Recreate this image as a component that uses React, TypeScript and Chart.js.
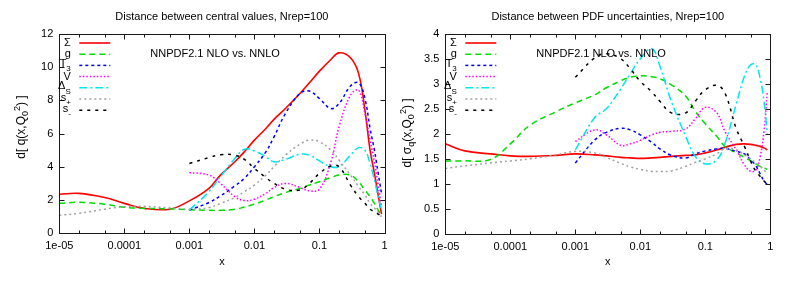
import React, { useEffect, useRef } from "react";
import { Chart, registerables } from "chart.js";

Chart.register(...registerables);

const W = 809;
const H = 297;
const FONT = '"Liberation Sans", Arial, Helvetica, sans-serif';
const _ = null;

// shared x grid (momentum fraction)
const X = [1e-5, 2e-5, 5e-5, 1e-4, 2e-4, 5e-4, 1e-3, 2e-3, 3e-3, 5e-3, 7e-3, 0.01, 0.015, 0.02, 0.03, 0.05, 0.07, 0.1, 0.15, 0.2, 0.3, 0.4, 0.5, 0.6, 0.7, 0.8, 0.9];

const X_TICKS = [1e-5, 1e-4, 1e-3, 1e-2, 1e-1, 1];
const X_TICK_LABELS = ["1e-05", "0.0001", "0.001", "0.01", "0.1", "1"];
const X_MINOR_FACTORS = [2, 5];

const Y_TICKS_CV = [0, 2, 4, 6, 8, 10, 12];
const Y_TICK_LABELS_CV = ["0", "2", "4", "6", "8", "10", "12"];
const Y_TICKS_UNC = [0, 0.5, 1, 1.5, 2, 2.5, 3, 3.5, 4];
const Y_TICK_LABELS_UNC = ["0", "0.5", "1", "1.5", "2", "2.5", "3", "3.5", "4"];

const SERIES_NAMES = ["Σ", "g", "T3", "V", "ΔS", "s+", "s-"];
const LEGEND_MAIN = ["Σ", "g", "T", "V", "Δ", "s", "s"];
const LEGEND_SUB = ["", "", "3", "", "S", "+", "-"];
const ANNOTATION = "NNPDF2.1 NLO vs. NNLO";

// Left panel: distance between central values
const cvSigma = [2.35, 2.4, 2.15, 1.8, 1.5, 1.45, 1.95, 2.7, 3.5, 4.3, 4.9, 5.6, 6.3, 6.85, 7.5, 8.4, 9.05, 9.75, 10.45, 10.85, 10.55, 9.6, 7.4, 5.0, 3.6, 2.3, 1.15];
const cvG = [1.8, 1.86, 1.75, 1.56, 1.5, 1.47, 1.42, 1.38, 1.38, 1.44, 1.58, 1.75, 2.0, 2.2, 2.45, 2.7, 2.9, 3.1, 3.35, 3.5, 3.5, 3.1, 2.6, 2.2, 1.8, 1.4, 1.05];
const cvT3 = [_, _, _, _, _, _, 1.4, 1.85, 2.25, 2.85, 3.3, 4.0, 4.9, 5.8, 7.2, 8.4, 8.55, 8.1, 7.5, 7.8, 8.85, 9.05, 8.1, 6.3, 5.0, 3.6, 2.4];
const cvV = [_, _, _, _, _, _, 3.65, 3.5, 3.0, 2.2, 1.97, 2.05, 2.4, 2.75, 3.0, 2.75, 2.55, 2.65, 4.3, 6.4, 8.3, 8.6, 7.2, 5.6, 4.3, 2.9, 1.6];
const cvDS = [_, _, _, _, _, _, 1.4, 2.5, 3.4, 4.5, 5.05, 4.95, 4.6, 4.3, 4.45, 4.75, 4.7, 4.35, 4.0, 4.0, 4.7, 5.15, 5.0, 4.2, 3.2, 2.2, 1.4];
const cvSp = [1.08, 1.2, 1.45, 1.6, 1.62, 1.52, 1.45, 1.55, 1.8, 2.15, 2.5, 2.9, 3.5, 4.0, 4.7, 5.35, 5.6, 5.5, 5.0, 4.4, 3.5, 2.8, 2.3, 1.8, 1.5, 1.25, 1.0];
const cvSm = [_, _, _, _, _, _, 4.2, 4.55, 4.72, 4.7, 4.45, 3.9, 3.35, 3.0, 2.65, 2.6, 3.0, 3.6, 4.05, 4.0, 2.9, 2.2, 1.8, 1.45, 1.3, 1.15, 1.05];

// Right panel: distance between PDF uncertainties
const unSigma = [1.8, 1.66, 1.6, 1.56, 1.55, 1.57, 1.6, 1.58, 1.56, 1.53, 1.52, 1.51, 1.52, 1.53, 1.55, 1.57, 1.58, 1.62, 1.68, 1.73, 1.79, 1.8, 1.79, 1.77, 1.75, 1.72, 1.68];
const unG = [1.46, 1.46, 1.49, 1.8, 2.17, 2.44, 2.62, 2.78, 2.92, 3.06, 3.13, 3.16, 3.14, 3.1, 2.98, 2.75, 2.45, 2.2, 1.95, 1.75, 1.62, 1.53, 1.46, 1.4, 1.35, 1.32, 1.29];
const unT3 = [_, _, _, _, _, _, 1.42, 1.88, 2.03, 2.11, 2.08, 1.98, 1.83, 1.7, 1.57, 1.52, 1.6, 1.66, 1.7, 1.71, 1.65, 1.6, 1.48, 1.36, 1.2, 1.06, 0.99];
const unV = [_, _, _, _, _, _, 1.85, 2.08, 1.98, 1.77, 1.8, 1.87, 1.98, 2.03, 2.05, 2.1, 2.3, 2.53, 2.42, 2.05, 1.68, 1.38, 1.25, 1.28, 1.55, 2.05, 2.85];
const unDS = [_, _, _, _, _, _, 1.68, 2.33, 2.5, 2.9, 3.2, 3.5, 3.7, 3.35, 2.65, 1.95, 1.55, 1.4, 1.48, 1.8, 2.6, 3.15, 3.38, 3.38, 3.1, 2.65, 2.0];
const unSp = [1.31, 1.36, 1.42, 1.46, 1.5, 1.58, 1.65, 1.62, 1.53, 1.41, 1.34, 1.29, 1.25, 1.25, 1.26, 1.35, 1.43, 1.5, 1.6, 1.7, 1.68, 1.58, 1.5, 1.42, 1.35, 1.28, 1.2];
const unSm = [_, _, _, _, _, _, 3.13, 3.52, 3.6, 3.5, 3.3, 3.05, 2.84, 2.65, 2.42, 2.42, 2.65, 2.88, 2.97, 2.82, 2.1, 1.75, 1.45, 1.25, 1.15, 1.06, 1.0];

const STYLES = [
  { color: "#ff0000", width: 1.6, dash: [] as number[] },
  { color: "#00dd00", width: 1.5, dash: [6, 4] },
  { color: "#0000ff", width: 1.5, dash: [3, 3] },
  { color: "#ff00ff", width: 1.5, dash: [1.5, 2] },
  { color: "#00e5ee", width: 1.5, dash: [8, 3, 2, 3] },
  { color: "#a0a0a0", width: 1.5, dash: [2, 3] },
  { color: "#000000", width: 1.5, dash: [3, 5] },
];

type Piece = { t: string; k?: "sub" | "sup" };

type Panel = {
  title: string;
  series: (number | null)[][];
  yMin: number;
  yMax: number;
  yTicks: number[];
  yTickLabels: string[];
  area: { left: number; right: number; top: number; bottom: number };
  yLabel: Piece[];
  yLabelPos: { x: number; y: number };
};

const PANELS: Panel[] = [
  {
    title: "Distance between central values, Nrep=100",
    series: [cvSigma, cvG, cvT3, cvV, cvDS, cvSp, cvSm],
    yMin: 0,
    yMax: 12,
    yTicks: Y_TICKS_CV,
    yTickLabels: Y_TICK_LABELS_CV,
    area: { left: 59.3, right: 384.5, top: 33.7, bottom: 233.3 },
    yLabel: [{ t: "d[ q(x,Q" }, { t: "0", k: "sub" }, { t: "2", k: "sup" }, { t: ") ]" }],
    yLabelPos: { x: 22, y: 127 },
  },
  {
    title: "Distance between PDF uncertainties, Nrep=100",
    series: [unSigma, unG, unT3, unV, unDS, unSp, unSm],
    yMin: 0,
    yMax: 4,
    yTicks: Y_TICKS_UNC,
    yTickLabels: Y_TICK_LABELS_UNC,
    area: { left: 445.3, right: 770.3, top: 33.7, bottom: 234 },
    yLabel: [{ t: "d[ σ" }, { t: "q", k: "sub" }, { t: "(x,Q" }, { t: "0", k: "sub" }, { t: "2", k: "sup" }, { t: ") ]" }],
    yLabelPos: { x: 408, y: 133 },
  },
];

function makeDecor(panel: Panel) {
  return {
    id: "decor",
    afterDraw(chart: any) {
      const ctx: CanvasRenderingContext2D = chart.ctx;
      const ca = chart.chartArea;
      const xs = chart.scales.x;
      const ys = chart.scales.y;
      ctx.save();
      ctx.setLineDash([]);
      ctx.strokeStyle = "#1a1a1a";
      ctx.lineWidth = 1;
      const L = Math.round(ca.left) + 0.5;
      const R = Math.round(ca.right) + 0.5;
      const T = Math.round(ca.top) + 0.5;
      const B = Math.round(ca.bottom) + 0.5;
      ctx.strokeRect(L, T, R - L, B - T);
      const seg = (x1: number, y1: number, x2: number, y2: number) => {
        ctx.beginPath();
        ctx.moveTo(x1, y1);
        ctx.lineTo(x2, y2);
        ctx.stroke();
      };
      X_TICKS.forEach((v) => {
        const px = Math.round(xs.getPixelForValue(v)) + 0.5;
        seg(px, B, px, B - 5);
        seg(px, T, px, T + 5);
      });
      X_TICKS.slice(0, -1).forEach((d) => {
        X_MINOR_FACTORS.forEach((f) => {
          const px = Math.round(xs.getPixelForValue(d * f)) + 0.5;
          seg(px, B, px, B - 3);
          seg(px, T, px, T + 3);
        });
      });
      panel.yTicks.forEach((v) => {
        const py = Math.round(ys.getPixelForValue(v)) + 0.5;
        seg(L, py, L + 5, py);
        seg(R, py, R - 5, py);
      });

      ctx.fillStyle = "#000";
      ctx.font = `11px ${FONT}`;
      ctx.textBaseline = "middle";
      ctx.textAlign = "center";
      const cx = (ca.left + ca.right) / 2;
      ctx.fillText(panel.title, cx, 17);
      ctx.fillText("x", cx, 262);
      ctx.textAlign = "left";
      ctx.fillText(ANNOTATION, ca.left + 91, 54);

      // rotated y label with sub/superscripts
      const mainFont = `12px ${FONT}`;
      const smallFont = `9px ${FONT}`;
      let total = 0;
      panel.yLabel.forEach((p) => {
        ctx.font = p.k ? smallFont : mainFont;
        total += ctx.measureText(p.t).width;
      });
      ctx.save();
      ctx.translate(panel.yLabelPos.x, panel.yLabelPos.y);
      ctx.rotate(-Math.PI / 2);
      let px = -total / 2;
      panel.yLabel.forEach((p) => {
        ctx.font = p.k ? smallFont : mainFont;
        const dy = p.k === "sub" ? 3.5 : p.k === "sup" ? -4.5 : 0;
        ctx.fillText(p.t, px, dy);
        px += ctx.measureText(p.t).width;
      });
      ctx.restore();

      // gnuplot-style key
      chart.data.datasets.forEach((ds: any, i: number) => {
        const y = ca.top + 9.3 + i * 11.2;
        ctx.save();
        ctx.strokeStyle = ds.borderColor;
        ctx.lineWidth = ds.borderWidth;
        ctx.setLineDash(ds.borderDash || []);
        ctx.beginPath();
        ctx.moveTo(ca.left + 20, y);
        ctx.lineTo(ca.left + 51, y);
        ctx.stroke();
        ctx.restore();
        const main = LEGEND_MAIN[i];
        const sub = LEGEND_SUB[i];
        ctx.font = `11px ${FONT}`;
        const mw = ctx.measureText(main).width;
        ctx.font = `8px ${FONT}`;
        const sw = sub ? ctx.measureText(sub).width : 0;
        const x0 = ca.left + 11.5 - mw - sw;
        ctx.textAlign = "left";
        ctx.font = `11px ${FONT}`;
        ctx.fillText(main, x0, sub ? y - 1.5 : y);
        if (sub) {
          ctx.font = `8px ${FONT}`;
          ctx.fillText(sub, x0 + mw, y + 3.5);
        }
      });
      ctx.restore();
    },
  };
}

function PanelChart({ panel }: { panel: Panel }) {
  const ref = useRef<HTMLCanvasElement | null>(null);
  useEffect(() => {
    if (!ref.current) return;
    const a = panel.area;
    const chart = new Chart(ref.current, {
      type: "line",
      data: {
        datasets: panel.series.map((ys, i) => ({
          label: SERIES_NAMES[i],
          data: X.map((x, j) => ({ x, y: ys[j] })).filter((p) => p.y !== null) as any,
          borderColor: STYLES[i].color,
          borderWidth: STYLES[i].width,
          borderDash: STYLES[i].dash,
          pointRadius: 0,
          tension: 0.4,
          fill: false,
          order: 10 - i,
        })),
      },
      options: {
        responsive: false,
        animation: false,
        devicePixelRatio: 1,
        layout: { padding: { left: 0, top: a.top, right: W - a.right, bottom: 0 } },
        plugins: { legend: { display: false }, title: { display: false }, tooltip: { enabled: false } },
        scales: {
          x: {
            type: "logarithmic",
            min: 1e-5,
            max: 1,
            position: "bottom",
            grid: { display: false, drawTicks: false },
            border: { display: false },
            ticks: {
              autoSkip: false,
              maxRotation: 0,
              minRotation: 0,
              padding: 6,
              color: "#000",
              font: { family: FONT, size: 11 },
              callback: (_v: any, i: number) => X_TICK_LABELS[i],
            },
            afterBuildTicks: (s: any) => {
              s.ticks = X_TICKS.map((v) => ({ value: v }));
            },
            afterFit: (s: any) => {
              s.height = H - a.bottom;
            },
          },
          y: {
            type: "linear",
            min: panel.yMin,
            max: panel.yMax,
            position: "left",
            grid: { display: false, drawTicks: false },
            border: { display: false },
            ticks: {
              autoSkip: false,
              padding: 6,
              color: "#000",
              font: { family: FONT, size: 11 },
              callback: (_v: any, i: number) => panel.yTickLabels[i],
            },
            afterBuildTicks: (s: any) => {
              s.ticks = panel.yTicks.map((v) => ({ value: v }));
            },
            afterFit: (s: any) => {
              s.width = a.left;
            },
          },
        },
      } as any,
      plugins: [makeDecor(panel)],
    });
    return () => chart.destroy();
  }, [panel]);
  return (
    <canvas
      ref={ref}
      width={W}
      height={H}
      style={{ position: "absolute", left: 0, top: 0, width: W, height: H }}
    />
  );
}

export default function App() {
  return (
    <div style={{ position: "absolute", left: 0, top: 0, width: W, height: H, background: "#fff", overflow: "hidden" }}>
      {PANELS.map((p, i) => (
        <PanelChart key={i} panel={p} />
      ))}
    </div>
  );
}
